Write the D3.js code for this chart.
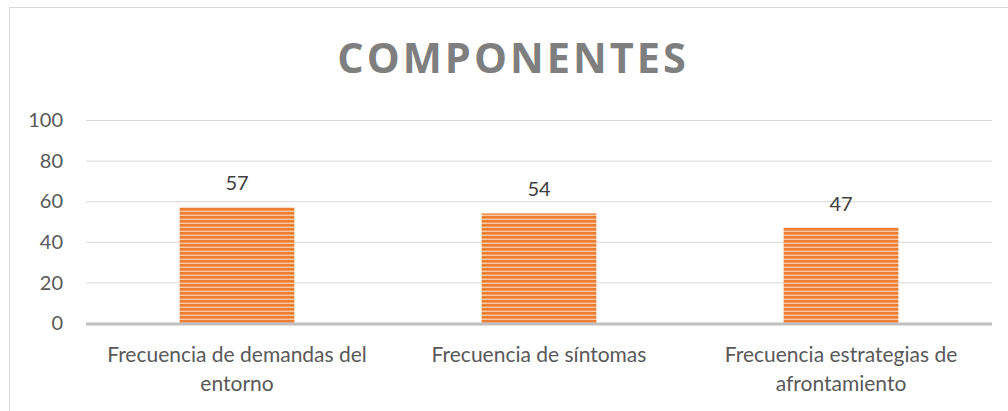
<!DOCTYPE html>
<html><head><meta charset="utf-8">
<script src="https://cdn.jsdelivr.net/npm/d3@7"></script>
<style>body{margin:0;background:#fff}svg{display:block}</style>
</head><body>
<script>
const categories = [["Frecuencia de demandas del","entorno"],["Frecuencia de síntomas"],["Frecuencia estrategias de","afrontamiento"]];
const values = [57, 54, 47];
const yTicks = [0, 20, 40, 60, 80, 100];
const title = "COMPONENTES";

const W = 1008, H = 411;
const FONT = "Lato, 'Open Sans', sans-serif";
const svg = d3.select("body").append("svg").attr("width", W).attr("height", H);
const defs = svg.append("defs");
const pat = defs.append("pattern").attr("id","stripes").attr("patternUnits","userSpaceOnUse")
  .attr("width", 8).attr("height", 4);
pat.append("rect").attr("width",8).attr("height",4).attr("fill","#F9C9A6");
pat.append("rect").attr("width",8).attr("height",2.6).attr("fill","#EE7E33");

svg.append("rect").attr("x",9.5).attr("y",7.5).attr("width",W).attr("height",H)
  .attr("fill","#fff").attr("stroke","#d9d9d9");

const x = d3.scaleBand().domain(d3.range(values.length)).range([86, 992]).paddingInner(0.62).paddingOuter(0.31);
const y = d3.scaleLinear().domain([0, 100]).range([323, 120]);

svg.append("g").selectAll("line").data(yTicks.filter(d=>d>0)).join("line")
  .attr("x1",86).attr("x2",992).attr("y1",d=>y(d)+0.5).attr("y2",d=>y(d)+0.5)
  .attr("stroke","#d9d9d9").attr("stroke-width",1);

svg.append("g").selectAll("text").data(yTicks).join("text")
  .attr("x",63).attr("y",d=>y(d)).attr("dy","0.36em").attr("text-anchor","end")
  .attr("font-family",FONT).attr("font-size",20).attr("fill","#595959")
  .text(d=>d);

svg.append("g").selectAll("rect").data(values).join("rect")
  .attr("x",(d,i)=>x(i)).attr("width",x.bandwidth())
  .attr("y",d=>y(d)).attr("height",d=>y(0)-y(d))
  .attr("fill","url(#stripes)");

svg.append("line").attr("x1",86).attr("x2",992).attr("y1",y(0)+1).attr("y2",y(0)+1)
  .attr("stroke","#bfbfbf").attr("stroke-width",3);

svg.append("g").selectAll("text").data(values).join("text")
  .attr("x",(d,i)=>x(i)+x.bandwidth()/2).attr("y",d=>y(d)-17)
  .attr("text-anchor","middle")
  .attr("font-family",FONT).attr("font-size",20).attr("fill","#404040")
  .text(d=>d);

const cat = svg.append("g").selectAll("text").data(categories).join("text")
  .attr("x",(d,i)=>x(i)+x.bandwidth()/2).attr("y",362)
  .attr("text-anchor","middle")
  .attr("font-family",FONT).attr("font-size",21).attr("fill","#595959");
cat.selectAll("tspan").data(d=>d).join("tspan")
  .attr("x",function(){return this.parentNode.getAttribute("x");})
  .attr("dy",(d,i)=>i?29:0).text(d=>d);

svg.append("text").attr("x",513).attr("y",73).attr("text-anchor","middle")
  .attr("font-family","Open Sans, sans-serif").attr("font-weight","bold").attr("font-size",41.5)
  .attr("letter-spacing",3).attr("fill","#7f7f7f").text(title);
</script>
</body></html>
